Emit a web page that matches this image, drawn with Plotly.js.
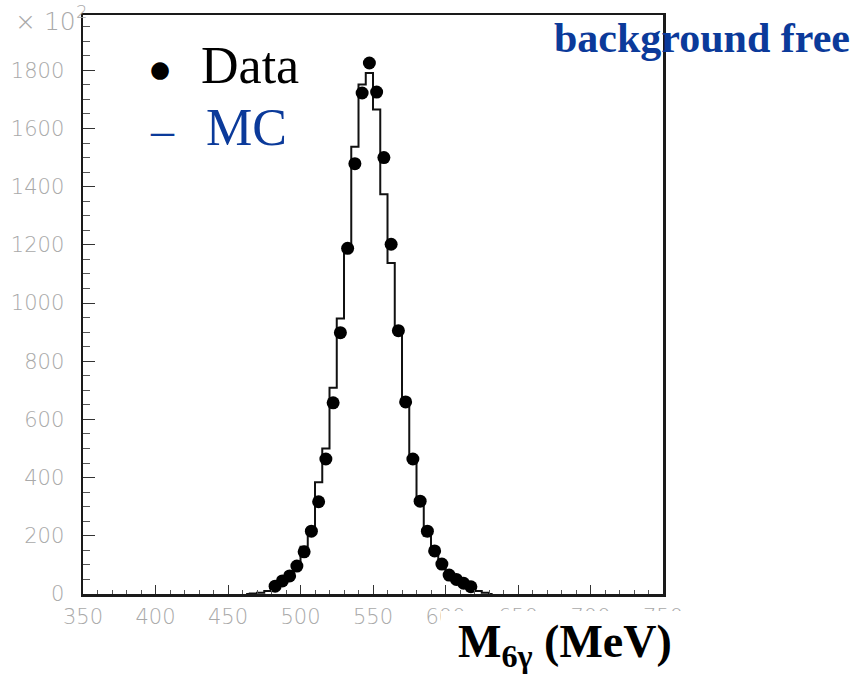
<!DOCTYPE html>
<html>
<head>
<meta charset="utf-8">
<script src="https://cdn.plot.ly/plotly-3.0.1.min.js"></script>
<style>
  html, body { margin: 0; padding: 0; background: #ffffff; }
  #chart { width: 857px; height: 676px; }
</style>
</head>
<body>
<div id="chart"></div>
<script>
// Six-photon invariant mass, 5 MeV bins (bin centres in MeV)
const dataMass = [482.5, 487.5, 492.5, 497.5, 502.5, 507.5, 512.5, 517.5, 522.5, 527.5,
                  532.5, 537.5, 542.5, 547.5, 552.5, 557.5, 562.5, 567.5, 572.5, 577.5,
                  582.5, 587.5, 592.5, 597.5, 602.5, 607.5, 612.5, 617.5];
const dataCounts = [27, 45, 62, 96, 145, 216, 317, 464, 657, 898,
                    1188, 1479, 1722, 1825, 1725, 1500, 1202, 905, 660, 464,
                    319, 216, 148, 103, 65, 50, 37, 25];

const mcMass = [467.5, 472.5, 477.5, 482.5, 487.5, 492.5, 497.5, 502.5, 507.5, 512.5,
                517.5, 522.5, 527.5, 532.5, 537.5, 542.5, 547.5, 552.5, 557.5, 562.5,
                567.5, 572.5, 577.5, 582.5, 587.5, 592.5, 597.5, 602.5, 607.5, 612.5,
                617.5, 622.5, 627.5];
const mcCounts = [2, 4, 10, 25, 40, 62, 100, 162, 226, 384,
                  500, 709, 947, 1178, 1537, 1751, 1791, 1665, 1374, 1138,
                  910, 661, 464, 319, 200, 150, 105, 70, 50, 35,
                  22, 10, 4];

const xTicks = [350, 400, 450, 500, 550, 600, 650, 700, 750];
const yTicks = [0, 200, 400, 600, 800, 1000, 1200, 1400, 1600, 1800];

const binWidth = 5;

// close the MC histogram outline down to zero on both sides
const mcX = [mcMass[0] - binWidth].concat(mcMass, [mcMass[mcMass.length - 1] + binWidth]);
const mcY = [0].concat(mcCounts, [0]);

// plot frame in pixels
const W = 857, H = 676;
const L = 83, R = 663, T = 15, B = 594;
const px = x => (x - L) / (R - L);
const py = y => (B - y) / (B - T);

const tickFont = { family: 'DejaVu Sans', size: 21, color: '#a9a9a9', weight: 200 };
const blue = '#0b3a9a';

const traces = [
  {
    type: 'scatter', mode: 'lines', name: 'MC',
    x: mcX, y: mcY,
    line: { shape: 'hvh', color: '#111111', width: 2 },
    hoverinfo: 'skip', showlegend: false
  },
  {
    type: 'scatter', mode: 'markers', name: 'Data',
    x: dataMass, y: dataCounts,
    marker: { color: '#000000', size: 13, symbol: 'circle' },
    showlegend: false
  }
];

const layout = {
  width: W, height: H,
  margin: { l: L, r: W - R, t: T, b: H - B, pad: 0 },
  paper_bgcolor: '#ffffff',
  plot_bgcolor: '#ffffff',
  showlegend: false,
  xaxis: {
    range: [350, 750],
    tickmode: 'array', tickvals: xTicks, ticktext: xTicks.map(String),
    ticks: 'inside', ticklen: 9, tickwidth: 1, tickcolor: '#333333',
    minor: { dtick: 10, ticks: 'inside', ticklen: 4, tickcolor: '#555555', tick0: 350 },
    showgrid: false, zeroline: false,
    showline: true, linecolor: '#1a1a1a', linewidth: 2.5, mirror: true,
    tickfont: tickFont, ticklabelstandoff: 2
  },
  yaxis: {
    range: [0, 1990],
    tickmode: 'array', tickvals: yTicks, ticktext: yTicks.map(String),
    ticks: 'inside', ticklen: 12, tickwidth: 1, tickcolor: '#333333',
    minor: { dtick: 50, ticks: 'inside', ticklen: 7, tickcolor: '#555555', tick0: 0 },
    showgrid: false, zeroline: false,
    showline: true, linecolor: '#1a1a1a', linewidth: 2.5, mirror: true,
    tickfont: tickFont, ticklabelstandoff: 12
  },
  shapes: [
    // white panel carrying the axis title
    {
      type: 'rect', xref: 'paper', yref: 'paper', layer: 'above',
      x0: px(441), x1: px(700), y0: py(680), y1: py(611),
      fillcolor: '#ffffff', line: { width: 0 }
    }
  ],
  annotations: [
    {
      xref: 'paper', yref: 'paper', x: px(13), y: py(21),
      xanchor: 'left', yanchor: 'middle', showarrow: false,
      text: '× 10',
      font: { family: 'DejaVu Sans', size: 25, color: '#a9a9a9', weight: 200 }
    },
    {
      xref: 'paper', yref: 'paper', x: px(75), y: py(12),
      xanchor: 'left', yanchor: 'middle', showarrow: false, borderpad: 0,
      text: '2',
      font: { family: 'DejaVu Sans', size: 18, color: '#a9a9a9', weight: 200 }
    },
    {
      xref: 'paper', yref: 'paper', x: px(160), y: py(69),
      xanchor: 'center', yanchor: 'middle', showarrow: false,
      text: '●', font: { family: 'DejaVu Sans', size: 23, color: '#000000' }
    },
    {
      xref: 'paper', yref: 'paper', x: px(199), y: py(66),
      xanchor: 'left', yanchor: 'middle', showarrow: false,
      text: 'Data', font: { family: 'Liberation Serif', size: 52, color: '#000000' }
    },
    {
      xref: 'paper', yref: 'paper', x: px(162), y: py(130),
      xanchor: 'center', yanchor: 'middle', showarrow: false,
      text: '–', font: { family: 'Liberation Serif', size: 46, color: blue }
    },
    {
      xref: 'paper', yref: 'paper', x: px(204), y: py(128),
      xanchor: 'left', yanchor: 'middle', showarrow: false,
      text: 'MC', font: { family: 'Liberation Serif', size: 52, color: blue }
    },
    {
      xref: 'paper', yref: 'paper', x: px(852), y: py(38),
      xanchor: 'right', yanchor: 'middle', showarrow: false,
      text: '<b>background free</b>',
      font: { family: 'Liberation Serif', size: 42, color: blue }
    },
    {
      xref: 'paper', yref: 'paper', x: px(456), y: py(645),
      xanchor: 'left', yanchor: 'middle', showarrow: false,
      text: '<b>M<sub>6γ</sub> (MeV)</b>',
      font: { family: 'Liberation Serif', size: 46, color: '#000000' }
    }
  ]
};

Plotly.newPlot('chart', traces, layout, { displayModeBar: false, staticPlot: true });
</script>
</body>
</html>
